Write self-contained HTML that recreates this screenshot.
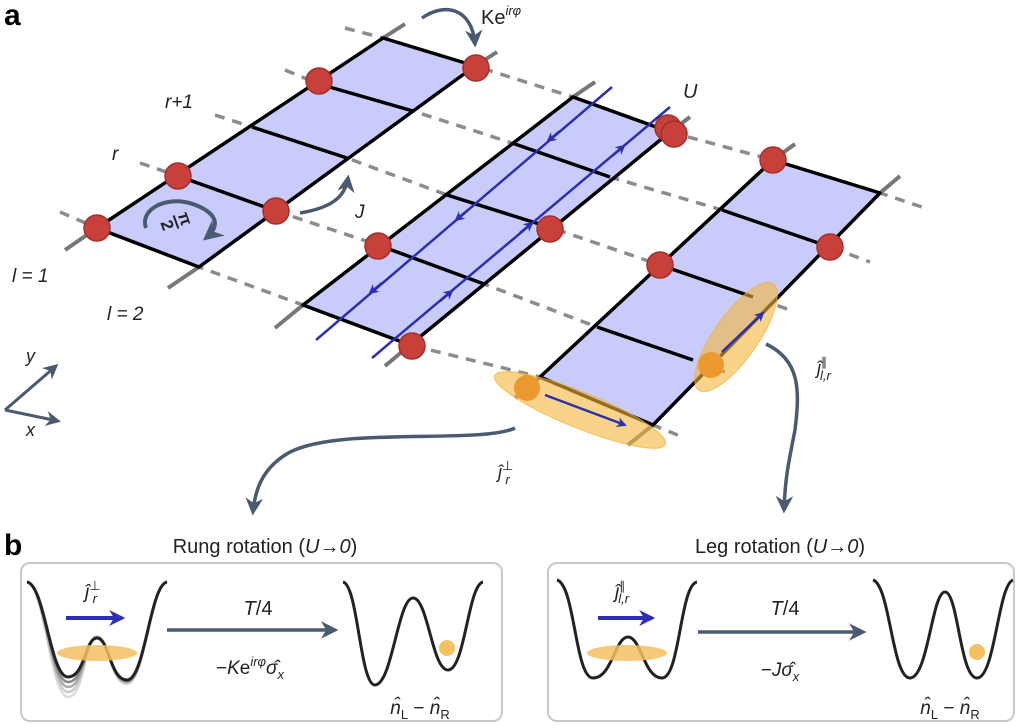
<!DOCTYPE html>
<html><head><meta charset="utf-8"><style>
html,body{margin:0;padding:0;background:#fff;}
svg{display:block;font-family:"Liberation Sans",sans-serif;}
</style></head><body>
<svg width="1024" height="726" viewBox="0 0 1024 726" xmlns="http://www.w3.org/2000/svg">
<defs>
<marker id="ag" viewBox="0 0 10 10" refX="8" refY="5" markerWidth="5" markerHeight="5" orient="auto"><path d="M0,0 L10,5 L0,10 L3,5z" fill="#4a5a70"/></marker>
<marker id="ab" viewBox="0 0 10 10" refX="8" refY="5" markerWidth="4" markerHeight="4" orient="auto"><path d="M0,0 L10,5 L0,10 L3,5z" fill="#2b2fb0"/></marker>
</defs>

<g stroke="#8c8c8c" stroke-width="3.5" stroke-dasharray="10,8" fill="none">
<polyline points="60,212 97,228 199,267 303,305 410,345 540,377 653,425 680,436"/>
<polyline points="140,163 178,176 276,211 378,245 484,284 597,327 693,360 725,372"/>
<polyline points="215,115 252,127 347,158 447,195 552,228 660,265 753,297 790,310"/>
<polyline points="285,70 319,84 413,111 512,143 610,177 722,210 830,247 870,262"/>
<polyline points="345,28 383,38 475,66 573,97 670,132 773,160 880,193 925,208"/>
</g>
<g stroke="#777" stroke-width="4" fill="none">
<line x1="65" y1="250" x2="97" y2="228"/><line x1="383" y1="38" x2="405" y2="24"/>
<line x1="168" y1="288" x2="199" y2="267"/><line x1="475" y1="66" x2="497" y2="52"/>
<line x1="275" y1="328" x2="303" y2="305"/><line x1="573" y1="97" x2="595" y2="82"/>
<line x1="385" y1="366" x2="410" y2="345"/><line x1="670" y1="132" x2="690" y2="117"/>
<line x1="515" y1="398" x2="540" y2="377"/><line x1="773" y1="160" x2="795" y2="144"/>
<line x1="628" y1="445" x2="653" y2="425"/><line x1="880" y1="193" x2="900" y2="176"/>
</g>
<g fill="#c9ccfa" stroke="#000" stroke-width="3.5" stroke-linejoin="round">
<polygon points="97,228 383,38 475,66 199,267"/>
<polygon points="303,305 573,97 670,132 410,345"/>
<polygon points="540,377 773,160 880,193 653,425"/>
</g>
<g stroke="#000" stroke-width="3.5">
<line x1="178" y1="176" x2="276" y2="211"/><line x1="252" y1="127" x2="347" y2="158"/><line x1="319" y1="84" x2="413" y2="111"/>
<line x1="378" y1="245" x2="484" y2="284"/><line x1="447" y1="195" x2="552" y2="228"/><line x1="512" y1="143" x2="610" y2="177"/>
<line x1="597" y1="327" x2="693" y2="360"/><line x1="660" y1="265" x2="753" y2="297"/><line x1="722" y1="210" x2="830" y2="247"/>
</g>
<g stroke="#2b2fb0" stroke-width="2.5" fill="none">
<line x1="612" y1="87" x2="316" y2="340"/>
<line x1="372" y1="358" x2="670" y2="107"/>
<line x1="560" y1="131" x2="548" y2="141" marker-end="url(#ab)"/>
<line x1="468" y1="210" x2="456" y2="220" marker-end="url(#ab)"/>
<line x1="382" y1="283" x2="370" y2="293" marker-end="url(#ab)"/>
<line x1="440" y1="301" x2="452" y2="291" marker-end="url(#ab)"/>
<line x1="520" y1="233" x2="532" y2="223" marker-end="url(#ab)"/>
<line x1="612" y1="156" x2="624" y2="146" marker-end="url(#ab)"/>
</g>
<path d="M146,228 C140,212 160,198 185,202 C205,206 228,220 206,238" fill="none" stroke="#4a5a70" stroke-width="4" marker-end="url(#ag)"/>
<g transform="translate(176,222) rotate(70)">
<text x="0" y="-4" font-size="17" font-weight="bold" fill="#222" text-anchor="middle">π</text>
<line x1="-7" y1="0" x2="7" y2="0" stroke="#222" stroke-width="2"/>
<text x="0" y="15" font-size="17" font-weight="bold" fill="#222" text-anchor="middle">2</text>
</g>
<g fill="#c8403a" stroke="#a3302c" stroke-width="1.5">
<circle cx="97" cy="228" r="13"/><circle cx="178" cy="176" r="13"/><circle cx="276" cy="211" r="13"/>
<circle cx="319" cy="81" r="13"/><circle cx="476" cy="68" r="13"/><circle cx="378" cy="246" r="13"/>
<circle cx="412" cy="346" r="13"/><circle cx="550" cy="229" r="13"/><circle cx="668" cy="128" r="13"/>
<circle cx="674" cy="134" r="13"/><circle cx="773" cy="160" r="13"/><circle cx="830" cy="247" r="13"/><circle cx="660" cy="265" r="13"/>
</g>
<ellipse cx="580" cy="410" rx="92" ry="18" transform="rotate(22 580 410)" fill="#f5b53c" fill-opacity="0.6" stroke="#f0b030" stroke-opacity="0.7"/>
<ellipse cx="736" cy="337" rx="65" ry="22" transform="rotate(-55 736 337)" fill="#f5b53c" fill-opacity="0.6" stroke="#f0b030" stroke-opacity="0.7"/>
<circle cx="527" cy="388" r="13" fill="#ec9a30"/><circle cx="711" cy="365" r="13" fill="#ec9a30"/>
<line x1="545" y1="395" x2="625" y2="425" stroke="#2b2fb0" stroke-width="2.5" marker-end="url(#ab)"/>
<line x1="722" y1="352" x2="763" y2="313" stroke="#2b2fb0" stroke-width="2.5" marker-end="url(#ab)"/>
<g stroke="#4a5a70" stroke-width="3.5" fill="none">
<path d="M422,18 C445,2 472,8 475,44" marker-end="url(#ag)"/>
<path d="M300,213 C330,208 345,198 348,178" marker-end="url(#ag)"/>
<path d="M515,428 C480,445 330,425 285,455 C262,470 255,490 253,512" marker-end="url(#ag)"/>
<path d="M766,344 C800,360 800,390 795,430 C788,465 785,480 784,510" marker-end="url(#ag)"/>
<line x1="5" y1="410" x2="56" y2="366" marker-end="url(#ag)" stroke-width="3"/>
<line x1="5" y1="410" x2="58" y2="421" marker-end="url(#ag)" stroke-width="3"/>
</g>
<text x="4" y="25" font-size="30" font-weight="bold">a</text>
<text x="481" y="24" font-size="20" fill="#222">Ke<tspan font-size="13" dy="-9" font-style="italic">irφ</tspan></text>
<text x="683" y="98" font-size="20" font-style="italic" fill="#222">U</text>
<text x="165" y="108" font-size="19" font-style="italic" fill="#222">r+1</text>
<text x="112" y="160" font-size="19" font-style="italic" fill="#222">r</text>
<text x="355" y="218" font-size="19" font-style="italic" fill="#222">J</text>
<text x="12" y="282" font-size="19" font-style="italic" fill="#222">l = 1</text>
<text x="107" y="320" font-size="19" font-style="italic" fill="#222">l = 2</text>
<text x="26" y="362" font-size="18" font-style="italic" fill="#222">y</text>
<text x="26" y="436" font-size="18" font-style="italic" fill="#222">x</text>
<text x="817" y="374" font-size="18" font-style="italic" fill="#222">ĵ<tspan font-size="12" dy="-8" font-style="normal">∥</tspan><tspan font-size="13" dx="-7" dy="14">l,r</tspan></text>
<text x="498" y="478" font-size="18" font-style="italic" fill="#222">ĵ<tspan font-size="13" dy="-8" font-style="normal">⊥</tspan><tspan font-size="13" dx="-8" dy="14">r</tspan></text>

<text x="4" y="555" font-size="30" font-weight="bold">b</text>
<text x="265" y="553" font-size="20" text-anchor="middle" fill="#222">Rung rotation (<tspan font-style="italic">U</tspan>→<tspan font-style="italic">0</tspan>)</text>
<text x="780" y="553" font-size="20" text-anchor="middle" fill="#222">Leg rotation (<tspan font-style="italic">U</tspan>→<tspan font-style="italic">0</tspan>)</text>
<rect x="21" y="563" width="481" height="158" rx="9" fill="none" stroke="#c8c8c8" stroke-width="2"/>
<rect x="548" y="563" width="466" height="158" rx="9" fill="none" stroke="#c8c8c8" stroke-width="2"/>

<g fill="none" stroke-width="2.5">
<path d="M27,582 C45,585 50,697 68,697 C85,697 85,636 97,636 C109,636 110,684 127,684 C145,684 150,585 167,582" stroke="#ddd"/>
<path d="M27,582 C45,585 50,692 68,692 C85,692 85,637 97,637 C109,637 110,683 127,683 C145,683 150,585 167,582" stroke="#ccc"/>
<path d="M27,582 C45,585 50,687 68,687 C85,687 85,637 97,637 C109,637 110,682 127,682 C145,682 150,585 167,582" stroke="#aaa"/>
<path d="M27,582 C45,585 50,682 68,682 C85,682 85,638 97,638 C109,638 110,681 127,681 C145,681 150,585 167,582" stroke="#888"/>
</g>
<g fill="none" stroke="#222" stroke-width="3">
<path d="M27,582 C45,585 50,677 68,677 C85,677 85,638 97,638 C109,638 110,680 127,680 C145,680 150,585 167,582"/>
<path d="M343,582 C358,585 360,685 375,685 C392,685 398,598 413,598 C428,598 432,670 448,670 C465,670 468,585 483,582"/>
<path d="M557,580 C575,585 575,678 593,678 C612,678 615,637 628,637 C641,637 644,678 662,678 C680,678 680,585 697,582"/>
<path d="M873,580 C890,585 892,678 910,678 C928,678 932,592 945,592 C958,592 960,678 977,678 C995,678 998,585 1013,580"/>
</g>
<g stroke="#4a5a70" stroke-width="3.5">
<line x1="167" y1="630" x2="335" y2="630" marker-end="url(#ag)"/>
<line x1="698" y1="632" x2="863" y2="632" marker-end="url(#ag)"/>
</g>
<line x1="66" y1="618" x2="122" y2="618" stroke="#2b2fb0" stroke-width="4" marker-end="url(#ab)"/>
<line x1="598" y1="618" x2="652" y2="618" stroke="#2b2fb0" stroke-width="4" marker-end="url(#ab)"/>
<ellipse cx="97" cy="653" rx="40" ry="8" fill="#f5c060" fill-opacity="0.85"/>
<ellipse cx="627" cy="653" rx="40" ry="8" fill="#f5c060" fill-opacity="0.85"/>
<circle cx="447" cy="648" r="8" fill="#f5c060"/>
<circle cx="977" cy="652" r="8" fill="#f5c060"/>
<g fill="#222">
<text x="258" y="615" font-size="20" text-anchor="middle" font-style="italic">T<tspan font-style="normal">/4</tspan></text>
<text x="250" y="674" font-size="19" text-anchor="middle">−<tspan font-style="italic">K</tspan>e<tspan font-size="13" dy="-8" font-style="italic">irφ</tspan><tspan dy="8" font-style="italic">σ̂</tspan><tspan font-size="13" dy="5" font-style="italic">x</tspan></text>
<text x="420" y="714" font-size="19" text-anchor="middle"><tspan font-style="italic">n̂</tspan><tspan font-size="13" dy="5">L</tspan><tspan dy="-5"> − </tspan><tspan font-style="italic">n̂</tspan><tspan font-size="13" dy="5">R</tspan></text>
<text x="85" y="598" font-size="19" font-style="italic">ĵ<tspan font-size="13" dy="-8" font-style="normal">⊥</tspan><tspan font-size="13" dx="-8" dy="13">r</tspan></text>
<text x="785" y="615" font-size="20" text-anchor="middle" font-style="italic">T<tspan font-style="normal">/4</tspan></text>
<text x="780" y="676" font-size="19" text-anchor="middle">−<tspan font-style="italic">J</tspan><tspan font-style="italic">σ̂</tspan><tspan font-size="13" dy="5" font-style="italic">x</tspan></text>
<text x="950" y="714" font-size="19" text-anchor="middle"><tspan font-style="italic">n̂</tspan><tspan font-size="13" dy="5">L</tspan><tspan dy="-5"> − </tspan><tspan font-style="italic">n̂</tspan><tspan font-size="13" dy="5">R</tspan></text>
<text x="615" y="598" font-size="19" font-style="italic">ĵ<tspan font-size="12" dy="-8" font-style="normal">∥</tspan><tspan font-size="13" dx="-7" dy="13">l,r</tspan></text>
</g>
</svg>
</body></html>
